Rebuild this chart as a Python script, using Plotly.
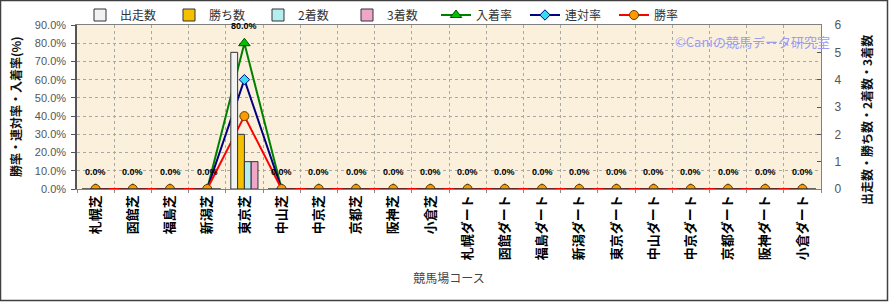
import plotly.graph_objects as go

courses = ["札幌芝", "函館芝", "福島芝", "新潟芝", "東京芝", "中山芝", "中京芝", "京都芝", "阪神芝", "小倉芝",
           "札幌ダート", "函館ダート", "福島ダート", "新潟ダート", "東京ダート", "中山ダート", "中京ダート",
           "京都ダート", "阪神ダート", "小倉ダート"]
starts = [0, 0, 0, 0, 5, 0, 0, 0, 0, 0, 0, 0, 0, 0, 0, 0, 0, 0, 0, 0]
wins = [0, 0, 0, 0, 2, 0, 0, 0, 0, 0, 0, 0, 0, 0, 0, 0, 0, 0, 0, 0]
seconds = [0, 0, 0, 0, 1, 0, 0, 0, 0, 0, 0, 0, 0, 0, 0, 0, 0, 0, 0, 0]
thirds = [0, 0, 0, 0, 1, 0, 0, 0, 0, 0, 0, 0, 0, 0, 0, 0, 0, 0, 0, 0]
place_rate = [0, 0, 0, 0, 80.0, 0, 0, 0, 0, 0, 0, 0, 0, 0, 0, 0, 0, 0, 0, 0]
quinella_rate = [0, 0, 0, 0, 60.0, 0, 0, 0, 0, 0, 0, 0, 0, 0, 0, 0, 0, 0, 0, 0]
win_rate = [0, 0, 0, 0, 40.0, 0, 0, 0, 0, 0, 0, 0, 0, 0, 0, 0, 0, 0, 0, 0]

left_title = "勝率・連対率・入着率(%)"
right_title = "出走数・勝ち数・2着数・3着数"
x_title = "競馬場コース"
watermark = "©Caniの競馬データ研究室"

W, H = 890, 302
L, R, T, B = 77, 69, 25, 113
pw, ph = W - L - R, H - T - B


def px_x(x):
    return (x - L) / pw


def px_y(y):
    return (T + ph - y) / ph


JP = "Noto Sans CJK JP, Liberation Sans, sans-serif"
LAT = "Liberation Sans, Arial, sans-serif"

fig = go.Figure()
bar_line = dict(color="#333333", width=1)
fig.add_trace(go.Bar(name="出走数", x=courses, y=starts, yaxis="y2",
                     marker=dict(color="#F2F2F2", line=bar_line)))
fig.add_trace(go.Bar(name="勝ち数", x=courses, y=wins, yaxis="y2",
                     marker=dict(color="#F5C000", line=bar_line)))
fig.add_trace(go.Bar(name="2着数", x=courses, y=seconds, yaxis="y2",
                     marker=dict(color="#B4EEF0", line=bar_line)))
fig.add_trace(go.Bar(name="3着数", x=courses, y=thirds, yaxis="y2",
                     marker=dict(color="#F0A6C8", line=bar_line)))
fig.add_trace(go.Scatter(name="入着率", x=courses, y=place_rate, mode="lines+markers",
                         line=dict(color="#008000", width=2),
                         marker=dict(symbol="triangle-up", size=10, color="#00C000",
                                     line=dict(color="#005000", width=1))))
fig.add_trace(go.Scatter(name="連対率", x=courses, y=quinella_rate, mode="lines+markers",
                         line=dict(color="#000080", width=2),
                         marker=dict(symbol="diamond", size=8, color="#30E0F0",
                                     line=dict(color="#000080", width=1))))
fig.add_trace(go.Scatter(name="勝率", x=courses, y=win_rate, mode="lines+markers",
                         line=dict(color="#FF0000", width=2),
                         marker=dict(symbol="circle", size=9, color="#FF9900",
                                     line=dict(color="#604000", width=1))))

annotations = []
for c, v in zip(courses, place_rate):
    annotations.append(dict(x=c, y=v, xref="x", yref="y", text=f"{v:.1f}%", showarrow=False,
                            yshift=17, font=dict(family=LAT, size=9, color="#000000", weight="bold")))
annotations.append(dict(x=px_x(832), y=px_y(41), xref="paper", yref="paper",
                        xanchor="right", yanchor="middle", showarrow=False,
                        text=watermark, font=dict(family=JP, size=13, color="#9C9CF2")))
annotations.append(dict(x=px_x(15), y=px_y(107), xref="paper", yref="paper",
                        xanchor="center", yanchor="middle", showarrow=False, textangle=-90,
                        text=left_title, font=dict(family=JP, size=12, color="#111111", weight="bold")))
annotations.append(dict(x=px_x(866), y=px_y(120), xref="paper", yref="paper",
                        xanchor="center", yanchor="middle", showarrow=False, textangle=-90,
                        text=right_title, font=dict(family=JP, size=12, color="#111111", weight="bold")))

fig.update_layout(
    width=W, height=H,
    margin=dict(l=L, r=R, t=T, b=B, autoexpand=False),
    paper_bgcolor="#FFFFFF",
    plot_bgcolor="#FAF0DC",
    barmode="group", bargap=0.27, bargroupgap=0.0,
    font=dict(family=JP, size=12, color="#333333"),
    showlegend=True,
    legend=dict(orientation="h", x=px_x(80), xanchor="left", y=px_y(15), yanchor="middle",
                font=dict(family=JP, size=12, color="#333333"), bgcolor="rgba(0,0,0,0)",
                itemwidth=30, traceorder="normal", entrywidth=44, entrywidthmode="pixels",
                tracegroupgap=0),
    annotations=annotations,
    shapes=[dict(type="rect", xref="paper", yref="paper",
                 x0=px_x(0.5), x1=px_x(887.5), y0=px_y(300.5), y1=px_y(0.5),
                 line=dict(color="#404040", width=1.5), fillcolor="rgba(0,0,0,0)", layer="below")],
    xaxis=dict(type="category", range=[-0.5, len(courses) - 0.5], autorange=False,
               tickangle=-90, tickson="boundaries", ticks="outside", ticklen=3,
               tickcolor="#888888",
               showgrid=True, gridcolor="#A8A8A8", griddash="dot", gridwidth=1,
               showline=True, linecolor="#808080", linewidth=1, mirror=True,
               tickfont=dict(family=JP, size=13, color="#000000", weight="bold"),
               title=dict(text=x_title, font=dict(family=JP, size=12, color="#444444"), standoff=15),
               automargin=False),
    yaxis=dict(range=[0, 90], dtick=10, tickformat=".1f", ticksuffix="%",
               ticks="outside", ticklen=4, tickcolor="#555555", ticklabelstandoff=3,
               showgrid=True, gridcolor="#A8A8A8", griddash="dot", gridwidth=1,
               showline=True, linecolor="#555555", linewidth=1.5, zeroline=False,
               tickfont=dict(family=LAT, size=11, color="#555555"),
               automargin=False),
    yaxis2=dict(range=[0, 6], dtick=1, overlaying="y", side="right",
                ticks="inside", ticklen=4, tickcolor="#555555",
                showgrid=False, zeroline=False, showline=True, linecolor="#808080",
                tickfont=dict(family=LAT, size=12, color="#555555"), ticklabelstandoff=10,
                automargin=False),
)

fig.write_html("out.html")
